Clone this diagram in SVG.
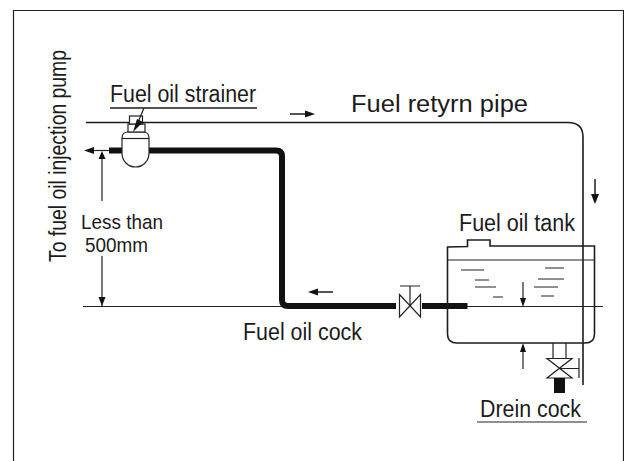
<svg xmlns="http://www.w3.org/2000/svg" width="624" height="461" viewBox="0 0 624 461">
<style>
text{font-family:"Liberation Sans",Arial,sans-serif;font-size:23px;fill:#1c1c1c}
.s{font-size:20.500px}
.t{fill:none;stroke:#222;stroke-width:1.2}
.m{fill:none;stroke:#1c1c1c;stroke-width:1.6}
.k{fill:none;stroke:#111;stroke-width:6}
.a{fill:none;stroke:#1c1c1c;stroke-width:1.5}
.h{fill:#111}
.w{fill:#fff;stroke:#222;stroke-width:1.2}
</style>
<rect width="624" height="461" fill="#fff"/>
<path class="t" d="M13.500 461V10.500H623.500V461"/>
<g id="connectors">
<path class="m" d="M86 122.500H568Q583 122.500 583 137V385"/>
<path class="k" d="M149 150.500H276Q282 150.500 282 156.500V300Q282 306 288 306H396"/>
<path class="k" d="M109 150.500H122"/>
<path class="k" d="M422 306H467.500"/>
<path class="t" d="M94 150.500H109"/>
<polygon class="h" points="84,150.500 94,147 94,154"/>
<path class="t" d="M102 159V201M102 256V306M83 306.500H281"/>
<polygon class="h" points="102,151 98.500,159 105.500,159"/>
<polygon class="h" points="102,306 98.500,297 105.500,297"/>
<path class="t" d="M467 306.500H603"/>
<path class="a" d="M290 114H306"/><polygon class="h" points="315,114 305,110.500 305,117.500"/>
<path class="a" d="M595 179V195"/><polygon class="h" points="595,204 591,194 599,194"/>
<path class="a" d="M333 292H317"/><polygon class="h" points="308,292 318,288.500 318,295.500"/>
<path class="t" d="M523 282V300"/><polygon class="h" points="523,307 520,298 526,298"/>
<path class="t" d="M523 352V369"/><polygon class="h" points="523,343 520,352 526,352"/>
</g>
<g id="strainer">
<path class="w" d="M122 138V153C122 161 128 167 135.500 167C143 167 149 161 149 153V138Q149 132 143 132H128Q122 132 122 138Z"/>
<path class="t" d="M122 138.500H149"/>
<rect class="w" x="128" y="124" width="17" height="8"/>
<rect class="w" x="129.500" y="116" width="13" height="8"/>
<path class="m" d="M110 108H257"/>
<path class="t" d="M144 108L136 127"/>
<polygon class="h" points="133,132 143,122 137,119"/>
<text x="110" y="101.500" textLength="146" lengthAdjust="spacingAndGlyphs">Fuel oil strainer</text>
</g>
<g id="injection-label">
<text transform="translate(66 262) rotate(-90)" textLength="212" lengthAdjust="spacingAndGlyphs">To fuel oil injection pump</text>
</g>
<g id="height-label">
<text class="s" x="81" y="228.500" textLength="82" lengthAdjust="spacingAndGlyphs">Less than</text>
<text class="s" x="85" y="252" textLength="63" lengthAdjust="spacingAndGlyphs">500mm</text>
</g>
<g id="return-label">
<text x="351" y="112" textLength="177" lengthAdjust="spacingAndGlyphs">Fuel retyrn pipe</text>
</g>
<g id="fuel-oil-cock">
<path class="w" d="M399.500 294.500L420.500 317V294.500L399.500 317Z"/>
<path class="t" d="M410 306V286M400 286H420"/>
<text x="243" y="340" textLength="119" lengthAdjust="spacingAndGlyphs">Fuel oil cock</text>
</g>
<g id="fuel-oil-tank">
<path class="m" d="M447.500 247V334Q447.500 343 457 343H585Q594.500 343 594.500 334V246H490V240H467.500V246.500Z"/>
<path class="t" d="M447.500 260H594.500"/>
<path class="t" d="M461 270H484M475 280H489M475 287H496M493 297H503M545 268H564M538 279H564M534 287H558M541 296H554"/>
<text x="459" y="230.500" textLength="116" lengthAdjust="spacingAndGlyphs">Fuel oil tank</text>
</g>
<g id="drein-cock">
<path class="t" d="M553 343V358M566 343V358"/>
<path class="w" d="M547 358.500H572L547 378H572Z"/>
<path class="t" d="M560 368.500H579M579 358V378"/>
<rect class="h" x="554" y="378" width="11" height="15"/>
<text x="480" y="416.500" textLength="101" lengthAdjust="spacingAndGlyphs">Drein cock</text>
<path class="t" d="M477 422H587"/>
</g>
</svg>
